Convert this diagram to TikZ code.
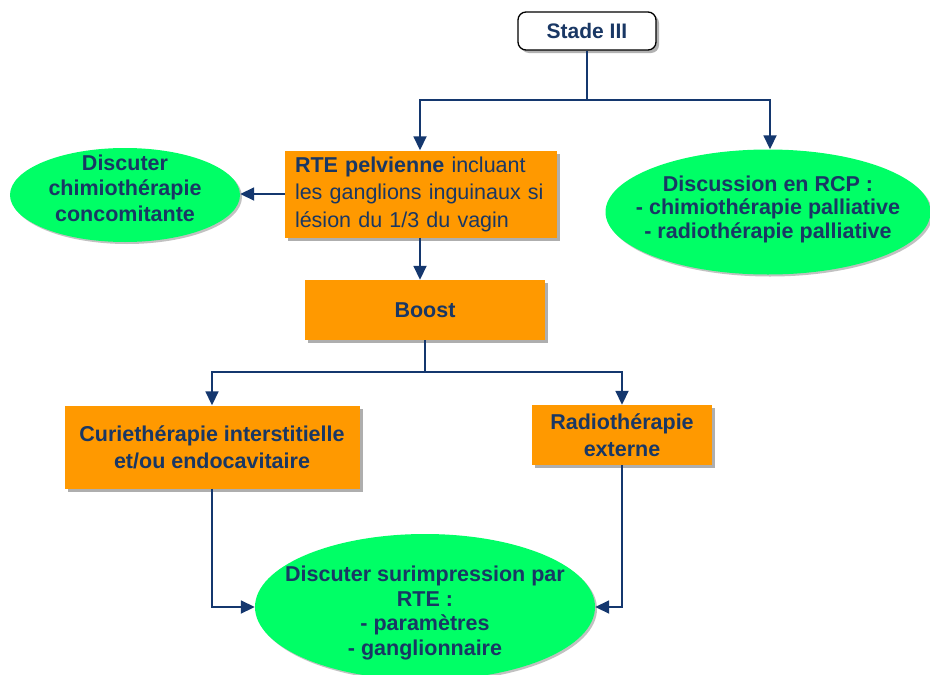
\documentclass[tikz,border=0pt]{standalone}
\usepackage{fontspec}
\setmainfont{Liberation Sans}
\usetikzlibrary{arrows.meta,shapes.geometric,shadows,positioning}
\definecolor{navy}{RGB}{25,55,100}
\definecolor{linec}{RGB}{20,55,110}
\definecolor{orng}{RGB}{255,153,0}
\definecolor{grn}{RGB}{0,255,102}
\begin{document}
\begin{tikzpicture}[x=1pt,y=-1pt,
  txt/.style={text=navy,font=\fontsize{21.5}{24.5}\selectfont\bfseries},
  obox/.style={txt,fill=orng,draw=none,inner sep=0pt,drop shadow={shadow xshift=3pt,shadow yshift=-3pt,fill=black!45,opacity=0.7}},
  gell/.style={ellipse,fill=grn,draw=none,inner sep=0pt,drop shadow={shadow xshift=2pt,shadow yshift=-2pt,fill=black!40,opacity=0.6}},
  etxt/.style={txt,align=center,inner sep=0pt},
  conn/.style={draw=linec,line width=1.8pt},
  arr/.style={conn,-{Triangle[length=14pt,width=13pt]}}
]
\useasboundingbox (0,0) rectangle (930,675);
\fill[white] (0,0) rectangle (930,675);

\node[txt,font=\fontsize{21}{24}\selectfont\bfseries,draw=black,line width=1.3pt,fill=white,rounded corners=8pt,minimum width=138pt,minimum height=38pt,inner sep=0pt,
  drop shadow={shadow xshift=3pt,shadow yshift=-3pt,fill=black!60}] (stade) at (587,31) {Stade III};

\node[obox,font=\fontsize{21.5}{27.5}\selectfont\bfseries,minimum width=272pt,minimum height=87pt,align=left,text width=252pt] (rte) at (421,194)
  {\textbf{RTE pelvienne} \mdseries incluant\\ \mdseries les ganglions inguinaux si\\ \mdseries lésion du 1/3 du vagin};

\node[gell,minimum width=230pt,minimum height=94pt] (chimio) at (125,195) {};
\node[etxt,font=\fontsize{21.5}{25.5}\selectfont\bfseries] (chimiot) at (125,188) {Discuter\\chimiothérapie\\concomitante};

\node[gell,minimum width=325pt,minimum height=125pt] (rcp) at (768,212) {};
\node[etxt,font=\fontsize{21.5}{23.5}\selectfont\bfseries] (rcpt) at (768,209) {Discussion en RCP :\\- chimiothérapie palliative\\- radiothérapie palliative};

\node[obox,minimum width=240pt,minimum height=60pt] (boost) at (425,310) {Boost};

\node[obox,font=\fontsize{21.5}{27}\selectfont\bfseries,minimum width=295pt,minimum height=83pt,align=center] (curie) at (212,447) {Curiethérapie interstitielle\\et/ou endocavitaire};

\node[obox,font=\fontsize{21.5}{27}\selectfont\bfseries,minimum width=180pt,minimum height=60pt,align=center] (radio) at (622,435) {Radiothérapie\\externe};

\node[gell,minimum width=340pt,minimum height=146pt] (surimp) at (425,607) {};
\node[etxt] (surimpt) at (425,613) {Discuter surimpression par\\RTE :\\- paramètres\\- ganglionnaire};

\coordinate (j1) at (587,100);
\coordinate (j2) at (425,372);
\draw[conn] (stade.south) -- (j1);
\draw[arr] (j1) -| (rte.north -| 420,0);
\draw[arr] (j1) -| (rcp.north -| 770,0);
\draw[arr] (rte.west) -- (chimio.east |- rte.west);
\draw[arr] (rte.south -| 420,0) -- (boost.north -| 420,0);
\draw[conn] (boost.south) -- (j2);
\draw[arr] (j2) -| (curie.north);
\draw[arr] (j2) -| (radio.north);
\draw[arr] (curie.south) |- (surimp.west);
\draw[arr] (radio.south) |- (surimp.east);
\end{tikzpicture}
\end{document}
